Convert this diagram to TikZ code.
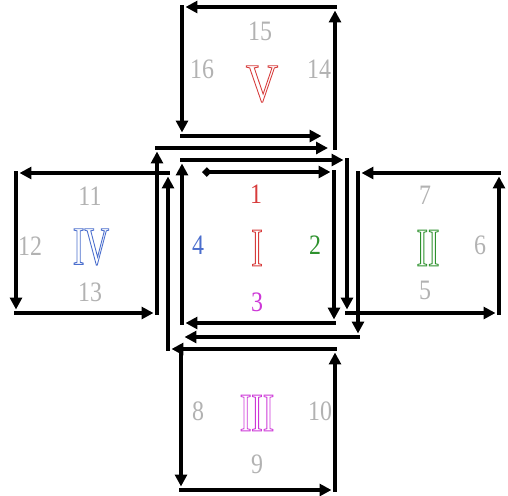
\documentclass[tikz,border=0pt]{standalone}
\usepackage{fontspec}
\setmainfont{Liberation Serif}
\newfontfamily\numfont[FakeStretch=0.85]{Liberation Serif}
\newfontfamily\romanfont[FakeStretch=0.63]{Liberation Serif}
\newfontfamily\romanwide[FakeStretch=0.82]{Liberation Serif}
\usetikzlibrary{arrows.meta}

\definecolor{numgray}{RGB}{178,178,178}
\definecolor{romred}{RGB}{215,60,60}
\definecolor{romgreen}{RGB}{45,145,45}
\definecolor{rommag}{RGB}{205,55,215}
\definecolor{romblue}{RGB}{75,110,205}

% outline letters (stroke only)
\newcommand{\hollow}[1]{\special{pdf:literal direct 1 Tr 0.5 w}#1\special{pdf:literal direct 0 Tr}}

\begin{document}
\begin{tikzpicture}[
    x=0.02cm, y=-0.02cm,
    edge/.style={line width=2.1pt, line cap=rect, shorten >=2pt, -{Triangle[length=6.8pt, width=6.8pt]}},
    first/.style={edge, {Diamond[length=5.5pt, width=5.5pt]}-{Triangle[length=6.8pt, width=6.8pt]}},
    num/.style={font=\numfont\fontsize{16}{16}\selectfont, text=numgray, inner sep=0pt},
    roman/.style={font=\romanfont\fontsize{31}{31}\selectfont, inner sep=0pt}
]
\useasboundingbox (0,0) rectangle (508,495);

% corners of the route
\coordinate (I0) at (202,172);
\coordinate (I1) at (334,172);
\coordinate (I2) at (334,323);
\coordinate (I3) at (182,323);
\coordinate (I4) at (182,160);
\coordinate (I5) at (347,160);
\coordinate (B1) at (347,313);
\coordinate (B2) at (499,313);
\coordinate (B3) at (499,173);
\coordinate (B4) at (358,173);
\coordinate (B5) at (358,337);
\coordinate (C0) at (181,337);
\coordinate (C1) at (181,348);
\coordinate (C2) at (181,490);
\coordinate (C3) at (335,490);
\coordinate (C4) at (335,349);
\coordinate (C5) at (168,349);
\coordinate (D1) at (168,173);
\coordinate (D2) at (16,173);
\coordinate (D3) at (16,313);
\coordinate (D4) at (157,313);
\coordinate (D5) at (157,148);
\coordinate (E1) at (335,148);
\coordinate (E2) at (335,7);
\coordinate (E3) at (182,7);
\coordinate (E4) at (182,136);
\coordinate (E5) at (325,136);

% box I
\draw[first] (I0) -- (I1);
\draw[edge] (I1) -- (I2);
\draw[edge] (I2) -- (I3);
\draw[edge] (I3) -- (I4);
\draw[edge] (I4) -- (I5);
\draw[edge] (I5) -- (B1);
% box II
\draw[edge] (B1) -- (B2);
\draw[edge] (B2) -- (B3);
\draw[edge] (B3) -- (B4);
\draw[edge] (B4) -- (B5);
\draw[edge] (B5) -- (C0);
% box III
\draw[edge] (C1) -- (C2);
\draw[edge] (C2) -- (C3);
\draw[edge] (C3) -- (C4);
\draw[edge] (C4) -- (C5);
% box IV
\draw[edge] (C5) -- (D1);
\draw[edge] (D1) -- (D2);
\draw[edge] (D2) -- (D3);
\draw[edge] (D3) -- (D4);
\draw[edge] (D4) -- (D5);
\draw[edge, shorten >=4pt] (D5) -- (E1);
% box V
\draw[edge] (E1) -- (E2);
\draw[edge] (E2) -- (E3);
\draw[edge] (E3) -- (E4);
\draw[edge] (E4) -- (E5);

% labels
\node[roman, text=romred]   (rI)   at (257,248) {\hollow{I}};
\node[roman, text=romgreen] (rII)  at (428,248) {\hollow{II}};
\node[roman, text=rommag]   (rIII) at (257,413) {\hollow{III}};
\node[roman, text=romblue]  (rIV)  at (91,247)  {\hollow{IV}};
\node[roman, text=romred, font=\romanwide\fontsize{31}{31}\selectfont] (rV) at (262,84) {\hollow{V}};

\node[num, text=romred]   (n1) at (256,194) {1};
\node[num, text=romgreen] (n2) at (315,245) {2};
\node[num, text=rommag]   (n3) at (257,302) {3};
\node[num, text=romblue]  (n4) at (198,245) {4};
\node[num] (n5)  at (425,290) {5};
\node[num] (n6)  at (480,245) {6};
\node[num] (n7)  at (425,195) {7};
\node[num] (n8)  at (198,411) {8};
\node[num] (n9)  at (257,464) {9};
\node[num] (n10) at (320,411) {10};
\node[num] (n11) at (90,196)  {11};
\node[num] (n12) at (30,246)  {12};
\node[num] (n13) at (90,292)  {13};
\node[num] (n14) at (319,69)  {14};
\node[num] (n15) at (260,31)  {15};
\node[num] (n16) at (202,69)  {16};

\end{tikzpicture}
\end{document}
